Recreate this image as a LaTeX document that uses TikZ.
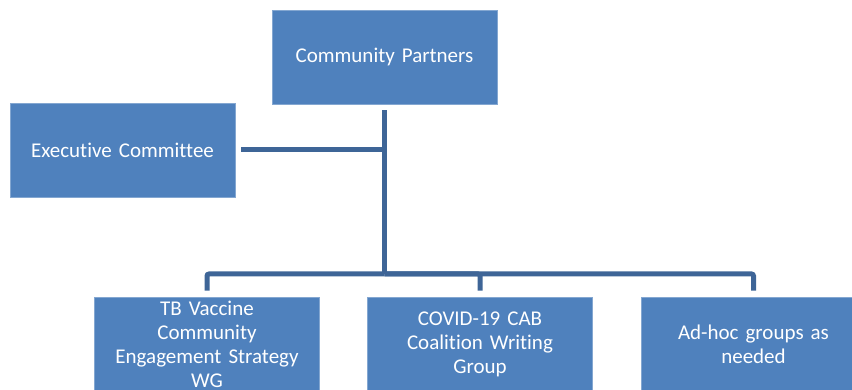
\documentclass[tikz,border=0pt]{standalone}
\usepackage{fontspec}
\setmainfont{Carlito}[Ligatures={NoCommon}]
\definecolor{boxfill}{HTML}{4F81BD}
\definecolor{connc}{HTML}{3E6597}
\begin{document}
\begin{tikzpicture}[x=1pt,y=-1pt,
  orgbox/.style={fill=boxfill, draw=boxfill!70!white, line width=0.6pt, minimum width=225pt, minimum height=94pt, inner sep=0pt,
    text=white, text width=214pt, align=center, font=\fontsize{21}{24}\selectfont},
  conn/.style={draw=connc, line width=5pt, rounded corners=2pt}]
\useasboundingbox (0,0) rectangle (852,390);
\clip (0,0) rectangle (852,390);
\node[orgbox] (cp) at (384.5,57) {Community Partners};
\node[orgbox] (ec) at (122.5,150) {Executive Committee};
\node[orgbox] (b1) at (207,344) {TB Vaccine\\Community\\Engagement Strategy\\WG};
\node[orgbox] (b2) at (480,344) {COVID-19 CAB\\Coalition Writing\\Group};
\node[orgbox] (b3) at (753.5,344) {Ad-hoc groups as\\needed};
\coordinate (j) at (384.5,274);
\draw[conn, shorten <=6pt] (cp.south) -- (j);
\draw[conn, shorten <=6pt] (ec.east) -- (ec.east -| j);
\draw[conn, shorten >=6pt] (j) -| (b1.north);
\draw[conn, shorten >=6pt] (j) -| (b2.north);
\draw[conn, shorten >=6pt] (j) -| (b3.north);
\end{tikzpicture}
\end{document}
